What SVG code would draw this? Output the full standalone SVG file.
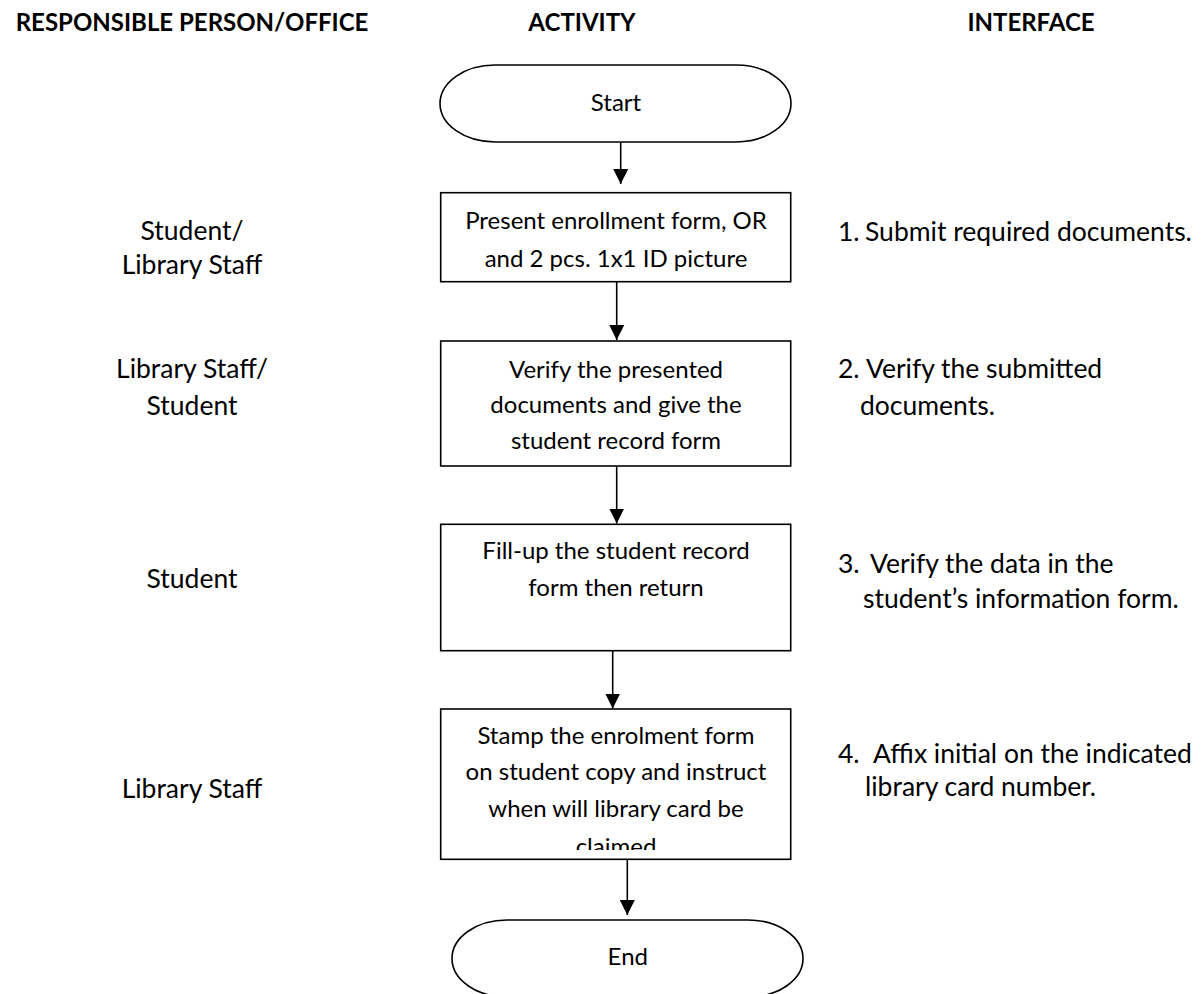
<svg xmlns="http://www.w3.org/2000/svg" width="1203" height="994" viewBox="0 0 1203 994">
  <style>
    text { font-family: Lato, "Liberation Sans", sans-serif; fill: #000; }
    .hd { font-size: 24px; font-weight: bold; text-anchor: middle; }
    .t { font-size: 24px; }
    .s { font-size: 26.5px; }
    .c { text-anchor: middle; }
    .shape { fill: #fff; stroke: #000; stroke-width: 1.6; }
    .conn { stroke: #000; stroke-width: 1.6; fill: none; marker-end: url(#arrow); }
  </style>
  <defs>
    <marker id="arrow" viewBox="0 0 10 10" refX="10" refY="5" markerWidth="15" markerHeight="15" markerUnits="userSpaceOnUse" orient="auto">
      <path d="M0,0 L10,5 L0,10 Z" fill="#000"/>
    </marker>
    <clipPath id="clip-p4">
      <rect x="441" y="709" width="350" height="141"/>
    </clipPath>
  </defs>
  <rect width="1203" height="994" fill="#fff"/>

  <!-- column headings -->
  <g id="headings">
    <text class="hd" x="192" y="31">RESPONSIBLE PERSON/OFFICE</text>
    <text class="hd" x="582" y="31">ACTIVITY</text>
    <text class="hd" x="1031" y="31">INTERFACE</text>
  </g>

  <!-- connectors -->
  <g id="connectors">
    <line class="conn" x1="620.7" y1="142" x2="620.7" y2="184"/>
    <line class="conn" x1="616.7" y1="282" x2="616.7" y2="340"/>
    <line class="conn" x1="616.7" y1="466" x2="616.7" y2="523.5"/>
    <line class="conn" x1="612.7" y1="651" x2="612.7" y2="708.5"/>
    <line class="conn" x1="627.3" y1="859" x2="627.3" y2="915"/>
  </g>

  <!-- start terminal -->
  <g id="start">
    <path class="shape" d="M495,65 H736 A55 38.5 0 0 1 736,142 H495 A55 38.5 0 0 1 495,65 Z"/>
    <text class="t c" x="616" y="111">Start</text>
  </g>

  <!-- step 1 -->
  <g id="step1">
    <rect class="shape" x="440.7" y="192.7" width="350" height="89"/>
    <text class="t c" x="616" y="229">Present enrollment form, OR</text>
    <text class="t c" x="616" y="267">and 2 pcs. 1x1 ID picture</text>
    <text class="s c" x="192" y="240">Student/</text>
    <text class="s c" x="192" y="274">Library Staff</text>
    <text class="s" y="241"><tspan x="838">1.</tspan><tspan x="865">Submit required documents.</tspan></text>
  </g>

  <!-- step 2 -->
  <g id="step2">
    <rect class="shape" x="440.7" y="341" width="350" height="125"/>
    <text class="t c" x="616" y="378">Verify the presented</text>
    <text class="t c" x="616" y="413">documents and give the</text>
    <text class="t c" x="616" y="449">student record form</text>
    <text class="s c" x="192" y="378">Library Staff/</text>
    <text class="s c" x="192" y="415">Student</text>
    <text class="s" y="378"><tspan x="838">2.</tspan><tspan x="866">Verify the submitted</tspan></text>
    <text class="s" x="860" y="415">documents.</text>
  </g>

  <!-- step 3 -->
  <g id="step3">
    <rect class="shape" x="440.7" y="524.3" width="350" height="126.4"/>
    <text class="t c" x="616" y="559">Fill-up the student record</text>
    <text class="t c" x="616" y="596">form then return</text>
    <text class="s c" x="192" y="588">Student</text>
    <text class="s" y="573"><tspan x="838">3.</tspan><tspan x="870">Verify the data in the</tspan></text>
    <text class="s" x="863" y="608">student’s information form.</text>
  </g>

  <!-- step 4 -->
  <g id="step4">
    <rect class="shape" x="440.7" y="709" width="350" height="150.3"/>
    <g clip-path="url(#clip-p4)">
      <text class="t c" x="616" y="744">Stamp the enrolment form</text>
      <text class="t c" x="616" y="780">on student copy and instruct</text>
      <text class="t c" x="616" y="817">when will library card be</text>
      <text class="t c" x="616" y="855">claimed</text>
    </g>
    <text class="s c" x="192" y="798">Library Staff</text>
    <text class="s" y="763"><tspan x="838">4.</tspan><tspan x="873">Affix initial on the indicated</tspan></text>
    <text class="s" x="865" y="796">library card number.</text>
  </g>

  <!-- end terminal -->
  <g id="end">
    <path class="shape" d="M507,920 H748 A55 38.5 0 0 1 748,997 H507 A55 38.5 0 0 1 507,920 Z"/>
    <text class="t c" x="627.8" y="965">End</text>
  </g>
</svg>
